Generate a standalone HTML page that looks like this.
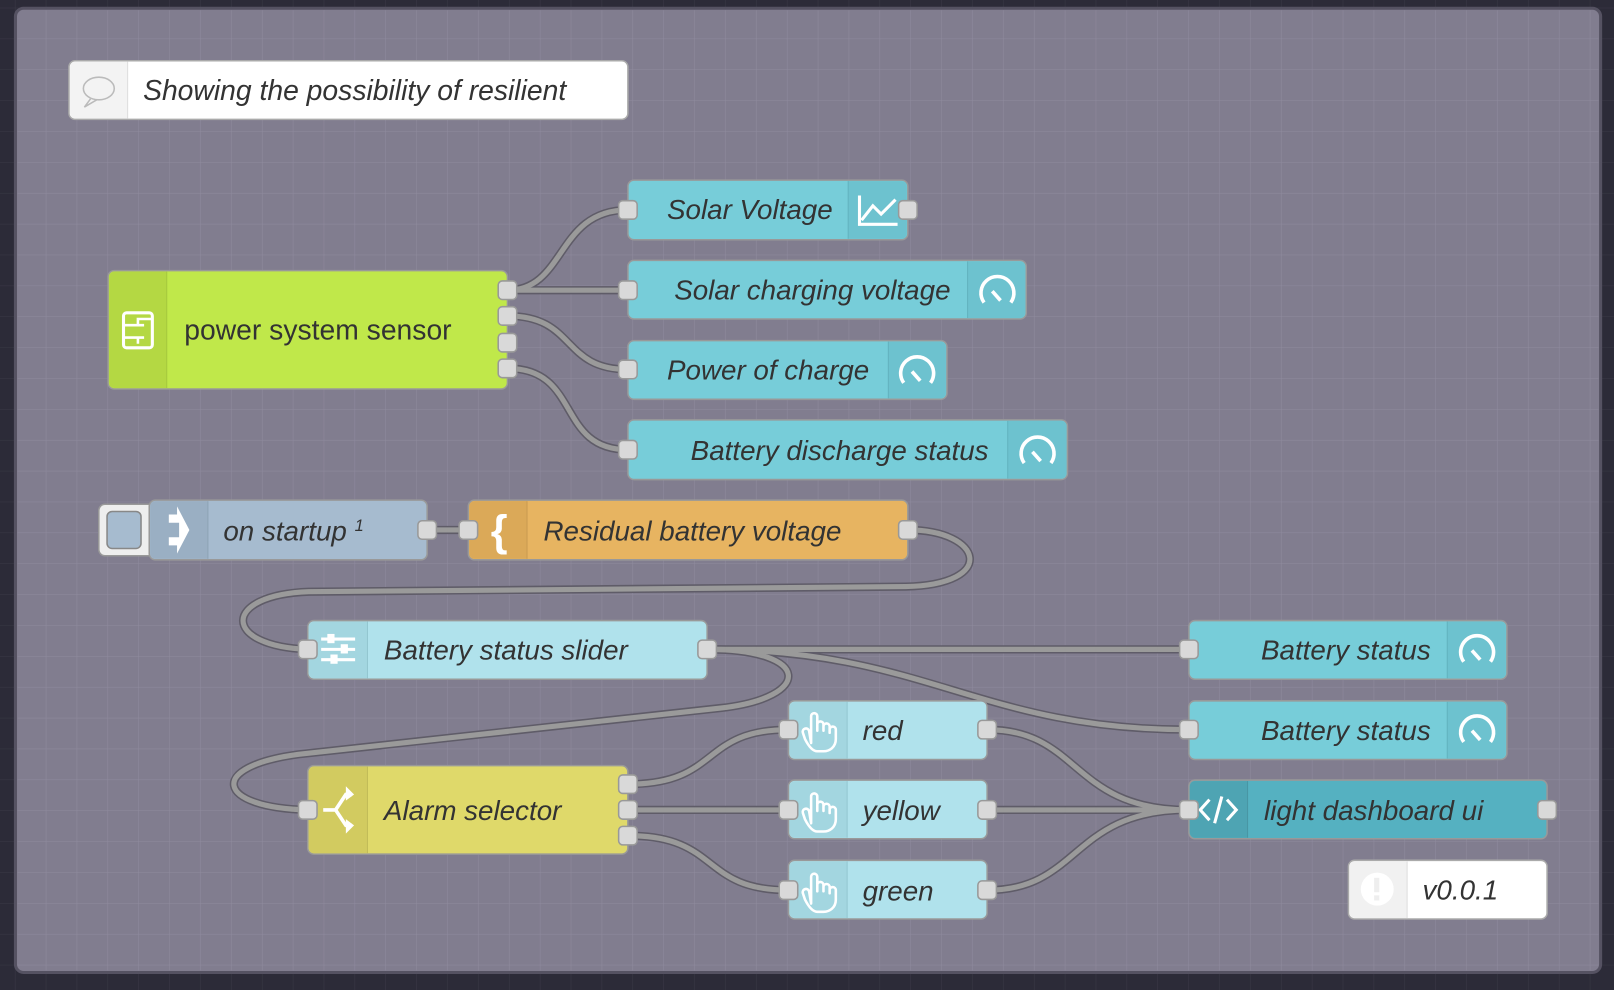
<!DOCTYPE html>
<html><head><meta charset="utf-8"><style>
html,body{margin:0;padding:0;background:#2c2b38;}
svg{display:block;}
text{font-family:"Liberation Sans",sans-serif;fill:#333;}
</style></head><body>
<svg width="1614" height="990" viewBox="0 0 1568 962" preserveAspectRatio="none" xmlns="http://www.w3.org/2000/svg">
<defs>
<pattern id="g" width="30" height="30" patternUnits="userSpaceOnUse" x="15" y="8">
<path d="M30 0V30M0 30H30" stroke="#8f8b9e" stroke-width="1" fill="none"/>
</pattern>
<pattern id="g2" width="30" height="30" patternUnits="userSpaceOnUse" x="15" y="8">
<path d="M30 0V30M0 30H30" stroke="#3a3946" stroke-width="1" fill="none"/>
</pattern>
</defs>
<rect width="1568" height="962" fill="#2c2b38"/>
<rect width="1568" height="962" fill="url(#g2)"/>
<rect x="15" y="8" width="1540" height="937" rx="8" fill="#817d8f" stroke="#555262" stroke-width="3"/>
<rect x="17" y="10" width="1536" height="933" fill="url(#g)"/>

<!-- wires -->
<g fill="none" stroke-linecap="round">
<g stroke="#5f5c68" stroke-width="8">
<path d="M493 282 C550 282 540 204 610 204"/>
<path d="M493 282 L610 282"/>
<path d="M493 307 C560 307 545 359 610 359"/>
<path d="M493 358 C565 358 540 437 610 437"/>
<path d="M415 515 L455 515"/>
<path d="M882 515 C955 515 970 568 880 570 L300 575 C215 578 215 628 299 631"/>
<path d="M687 631 L1155 631"/>
<path d="M687 631 C900 631 950 709 1155 709"/>
<path d="M687 631 C790 631 790 678 700 688 L290 733 C200 745 210 785 299 787"/>
<path d="M610 762 C700 762 680 709 766 709"/>
<path d="M610 787 L766 787"/>
<path d="M610 812 C700 812 680 865 766 865"/>
<path d="M959 709 C1050 709 1040 787 1155 787"/>
<path d="M959 787 L1155 787"/>
<path d="M959 865 C1050 865 1040 787 1155 787"/>
</g>
<g stroke="#9a9a9a" stroke-width="5">
<path d="M493 282 C550 282 540 204 610 204"/>
<path d="M493 282 L610 282"/>
<path d="M493 307 C560 307 545 359 610 359"/>
<path d="M493 358 C565 358 540 437 610 437"/>
<path d="M415 515 L455 515"/>
<path d="M882 515 C955 515 970 568 880 570 L300 575 C215 578 215 628 299 631"/>
<path d="M687 631 L1155 631"/>
<path d="M687 631 C900 631 950 709 1155 709"/>
<path d="M687 631 C790 631 790 678 700 688 L290 733 C200 745 210 785 299 787"/>
<path d="M610 762 C700 762 680 709 766 709"/>
<path d="M610 787 L766 787"/>
<path d="M610 812 C700 812 680 865 766 865"/>
<path d="M959 709 C1050 709 1040 787 1155 787"/>
<path d="M959 787 L1155 787"/>
<path d="M959 865 C1050 865 1040 787 1155 787"/>
</g>
</g>

<!-- comment -->
<rect x="67" y="59" width="543" height="57" rx="6" fill="#fff" stroke="#aaa" stroke-width="1.5"/>
<path d="M73 60 H124 V115 H73 a5 5 0 0 1 -5 -5 V65 a5 5 0 0 1 5 -5z" fill="#f3f3f3"/>
<line x1="124" y1="60" x2="124" y2="115" stroke="#ddd"/>
<ellipse cx="96" cy="86" rx="15" ry="11" fill="none" stroke="#bbb" stroke-width="1.5"/>
<path d="M88 96 L82 104 L94 97" fill="none" stroke="#bbb" stroke-width="1.5"/>
<text x="139" y="97" font-size="27.5" font-style="italic">Showing the possibility of resilient</text>

<!-- power system sensor -->
<rect x="105" y="263" width="388" height="115" rx="6" fill="#c0e84a" stroke="#999" stroke-width="1.5"/>
<path d="M111 264 H162 V377 H111 a5 5 0 0 1 -5 -5 V269 a5 5 0 0 1 5 -5z" fill="#b4d843"/>
<line x1="162" y1="264" x2="162" y2="377" stroke="#a5c93c"/>
<rect x="120" y="304" width="28" height="34" rx="3" fill="none" stroke="#fff" stroke-width="3"/>
<path d="M120 316 H140 M120 328 H140 M134 316 v-6 h14 M134 328 v6" fill="none" stroke="#fff" stroke-width="2.5"/>
<text x="179" y="330" font-size="27.5">power system sensor</text>

<!-- dashboard cyan nodes -->
<g>
<rect x="610" y="175" width="272" height="58" rx="6" fill="#77cdd9" stroke="#999" stroke-width="1.5"/>
<path d="M824 176 H876 a5 5 0 0 1 5 5 V227 a5 5 0 0 1 -5 5 H824z" fill="#6dc2cf"/>
<line x1="824" y1="176" x2="824" y2="232" stroke="#62b2be"/>
<path d="M835 190 V218 H872 M837 214 L848 200 L856 208 L870 194" fill="none" stroke="#fff" stroke-width="3"/>
<text x="648" y="213" font-size="27" font-style="italic">Solar Voltage</text>

<rect x="610" y="253" width="387" height="57" rx="6" fill="#77cdd9" stroke="#999" stroke-width="1.5"/>
<path d="M940 254 H991 a5 5 0 0 1 5 5 V304 a5 5 0 0 1 -5 5 H940z" fill="#6dc2cf"/>
<line x1="940" y1="254" x2="940" y2="309" stroke="#62b2be"/>
<text x="655" y="291" font-size="27" font-style="italic">Solar charging voltage</text>

<rect x="610" y="331" width="310" height="57" rx="6" fill="#77cdd9" stroke="#999" stroke-width="1.5"/>
<path d="M863 332 H914 a5 5 0 0 1 5 5 V382 a5 5 0 0 1 -5 5 H863z" fill="#6dc2cf"/>
<line x1="863" y1="332" x2="863" y2="387" stroke="#62b2be"/>
<text x="648" y="369" font-size="27" font-style="italic">Power of charge</text>

<rect x="610" y="408" width="427" height="58" rx="6" fill="#77cdd9" stroke="#999" stroke-width="1.5"/>
<path d="M979 409 H1031 a5 5 0 0 1 5 5 V460 a5 5 0 0 1 -5 5 H979z" fill="#6dc2cf"/>
<line x1="979" y1="409" x2="979" y2="465" stroke="#62b2be"/>
<text x="671" y="447" font-size="27" font-style="italic">Battery discharge status</text>

<rect x="1155" y="603" width="309" height="57" rx="6" fill="#77cdd9" stroke="#999" stroke-width="1.5"/>
<path d="M1406 604 H1458 a5 5 0 0 1 5 5 V654 a5 5 0 0 1 -5 5 H1406z" fill="#6dc2cf"/>
<line x1="1406" y1="604" x2="1406" y2="659" stroke="#62b2be"/>
<text x="1390" y="641" font-size="27" font-style="italic" text-anchor="end">Battery status</text>

<rect x="1155" y="681" width="309" height="57" rx="6" fill="#77cdd9" stroke="#999" stroke-width="1.5"/>
<path d="M1406 682 H1458 a5 5 0 0 1 5 5 V732 a5 5 0 0 1 -5 5 H1406z" fill="#6dc2cf"/>
<line x1="1406" y1="682" x2="1406" y2="737" stroke="#62b2be"/>
<text x="1390" y="719" font-size="27" font-style="italic" text-anchor="end">Battery status</text>
</g>

<!-- gauges -->
<g fill="none" stroke="#fff" stroke-width="3.5">
<path d="M956 294 A16 16 0 1 1 982 294"/><path d="M964 283 L972 292" stroke-width="3.5"/>
<path d="M878 372 A16 16 0 1 1 904 372"/><path d="M886 361 L894 370" stroke-width="3.5"/>
<path d="M995 450 A16 16 0 1 1 1021 450"/><path d="M1003 439 L1011 448" stroke-width="3.5"/>
<path d="M1422 643 A16 16 0 1 1 1448 643"/><path d="M1430 632 L1438 641" stroke-width="3.5"/>
<path d="M1422 721 A16 16 0 1 1 1448 721"/><path d="M1430 710 L1438 719" stroke-width="3.5"/>
</g>

<!-- on startup -->
<rect x="96" y="490" width="60" height="50" rx="6" fill="#eee" stroke="#999" stroke-width="1.5"/>
<rect x="104" y="497" width="33" height="36" rx="5" fill="#a6bbcf" stroke="#888" stroke-width="1.5"/>
<rect x="145" y="486" width="270" height="58" rx="6" fill="#a6bbcf" stroke="#999" stroke-width="1.5"/>
<path d="M151 487 H202 V543 H151 a5 5 0 0 1 -5 -5 V492 a5 5 0 0 1 5 -5z" fill="#9aafc3"/>
<line x1="202" y1="487" x2="202" y2="543" stroke="#8ea2b5"/>
<path d="M164 500 H172 V492 L184 515 L172 538 V530 H164 V522 H174 V508 H164z" fill="#fff"/>
<text x="217" y="525" font-size="27" font-style="italic">on startup <tspan font-size="16" dy="-9">1</tspan></text>

<!-- residual -->
<rect x="455" y="486" width="427" height="58" rx="6" fill="#e7b461" stroke="#999" stroke-width="1.5"/>
<path d="M461 487 H512 V543 H461 a5 5 0 0 1 -5 -5 V492 a5 5 0 0 1 5 -5z" fill="#dba958"/>
<line x1="512" y1="487" x2="512" y2="543" stroke="#c99b50"/>
<text x="485" y="530" font-size="42" font-weight="bold" style="fill:#fff" text-anchor="middle">{</text>
<text x="528" y="525" font-size="27" font-style="italic">Residual battery voltage</text>

<!-- slider -->
<rect x="299" y="603" width="388" height="57" rx="6" fill="#b0e2ec" stroke="#999" stroke-width="1.5"/>
<path d="M305 604 H357 V659 H305 a5 5 0 0 1 -5 -5 V609 a5 5 0 0 1 5 -5z" fill="#a3d6e0"/>
<line x1="357" y1="604" x2="357" y2="659" stroke="#93c6d0"/>
<g stroke="#fff" stroke-width="3"><line x1="312" y1="621" x2="345" y2="621"/><line x1="312" y1="631" x2="345" y2="631"/><line x1="312" y1="641" x2="345" y2="641"/></g>
<g fill="#fff"><rect x="318" y="616" width="7" height="9"/><rect x="331" y="626" width="7" height="9"/><rect x="321" y="636" width="7" height="9"/></g>
<text x="373" y="641" font-size="27" font-style="italic">Battery status slider</text>

<!-- alarm selector -->
<rect x="299" y="744" width="311" height="86" rx="6" fill="#dfd96a" stroke="#999" stroke-width="1.5"/>
<path d="M305 745 H357 V829 H305 a5 5 0 0 1 -5 -5 V750 a5 5 0 0 1 5 -5z" fill="#d2cb60"/>
<line x1="357" y1="745" x2="357" y2="829" stroke="#c2bc58"/>
<path d="M314 787 H326 L336 772 H342 M326 787 L336 802 H342" fill="none" stroke="#fff" stroke-width="3.5"/>
<path d="M336 764 L344 772 L336 778z M336 796 L344 802 L336 810z" fill="#fff"/>
<text x="373" y="797" font-size="27" font-style="italic">Alarm selector</text>

<!-- buttons -->
<g>
<rect x="766" y="681" width="193" height="57" rx="6" fill="#b0e2ec" stroke="#999" stroke-width="1.5"/>
<path d="M772 682 H823 V737 H772 a5 5 0 0 1 -5 -5 V687 a5 5 0 0 1 5 -5z" fill="#a3d6e0"/>
<line x1="823" y1="682" x2="823" y2="737" stroke="#93c6d0"/>
<text x="838" y="719" font-size="27" font-style="italic">red</text>
<rect x="766" y="758" width="193" height="57" rx="6" fill="#b0e2ec" stroke="#999" stroke-width="1.5"/>
<path d="M772 759 H823 V814 H772 a5 5 0 0 1 -5 -5 V764 a5 5 0 0 1 5 -5z" fill="#a3d6e0"/>
<line x1="823" y1="759" x2="823" y2="814" stroke="#93c6d0"/>
<text x="838" y="797" font-size="27" font-style="italic">yellow</text>
<rect x="766" y="836" width="193" height="57" rx="6" fill="#b0e2ec" stroke="#999" stroke-width="1.5"/>
<path d="M772 837 H823 V892 H772 a5 5 0 0 1 -5 -5 V842 a5 5 0 0 1 5 -5z" fill="#a3d6e0"/>
<line x1="823" y1="837" x2="823" y2="892" stroke="#93c6d0"/>
<text x="838" y="875" font-size="27" font-style="italic">green</text>
</g>
<g fill="none" stroke="#fff" stroke-width="2.5" stroke-linejoin="round">
<path d="M788 722 V696 a3 3 0 0 1 6 0 V710 V704 a3 3 0 0 1 6 0 V710 V706 a3 3 0 0 1 6 0 V712 V709 a3 3 0 0 1 6 0 V718 C812 726 806 730 800 730 H794 C790 730 786 726 782 718 L780 712 a3 3 0 0 1 6 -2z"/>
<path d="M788 800 V774 a3 3 0 0 1 6 0 V788 V782 a3 3 0 0 1 6 0 V788 V784 a3 3 0 0 1 6 0 V790 V787 a3 3 0 0 1 6 0 V796 C812 804 806 808 800 808 H794 C790 808 786 804 782 796 L780 790 a3 3 0 0 1 6 -2z"/>
<path d="M788 878 V852 a3 3 0 0 1 6 0 V866 V860 a3 3 0 0 1 6 0 V866 V862 a3 3 0 0 1 6 0 V868 V865 a3 3 0 0 1 6 0 V874 C812 882 806 886 800 886 H794 C790 886 786 882 782 874 L780 868 a3 3 0 0 1 6 -2z"/>
</g>

<!-- light dashboard ui -->
<rect x="1155" y="758" width="348" height="57" rx="6" fill="#55b1c1" stroke="#999" stroke-width="1.5"/>
<path d="M1161 759 H1212 V814 H1161 a5 5 0 0 1 -5 -5 V764 a5 5 0 0 1 5 -5z" fill="#4ea4b3"/>
<line x1="1212" y1="759" x2="1212" y2="814" stroke="#4896a4"/>
<path d="M1175 777 L1166 787 L1175 797 M1192 777 L1201 787 L1192 797 M1187 774 L1180 800" fill="none" stroke="#fff" stroke-width="3"/>
<text x="1228" y="797" font-size="27" font-style="italic">light dashboard ui</text>

<!-- version -->
<rect x="1310" y="836" width="193" height="57" rx="6" fill="#fff" stroke="#aaa" stroke-width="1.5"/>
<path d="M1316 837 H1367 V892 H1316 a5 5 0 0 1 -5 -5 V842 a5 5 0 0 1 5 -5z" fill="#f1f1f1"/>
<line x1="1367" y1="837" x2="1367" y2="892" stroke="#ddd"/>
<circle cx="1338" cy="864" r="16" fill="#fff"/>
<rect x="1335" y="853" width="5" height="14" fill="#eee"/><rect x="1335" y="870" width="5" height="5" fill="#eee"/>
<text x="1382" y="874" font-size="27" font-style="italic">v0.0.1</text>

<!-- ports -->
<g fill="#d9d9d9" stroke="#999" stroke-width="1.5">
<rect x="484" y="273" width="18" height="18" rx="4"/>
<rect x="484" y="298" width="18" height="18" rx="4"/>
<rect x="484" y="324" width="18" height="18" rx="4"/>
<rect x="484" y="349" width="18" height="18" rx="4"/>
<rect x="601" y="195" width="18" height="18" rx="4"/>
<rect x="873" y="195" width="18" height="18" rx="4"/>
<rect x="601" y="273" width="18" height="18" rx="4"/>
<rect x="601" y="350" width="18" height="18" rx="4"/>
<rect x="601" y="428" width="18" height="18" rx="4"/>
<rect x="406" y="506" width="18" height="18" rx="4"/>
<rect x="446" y="506" width="18" height="18" rx="4"/>
<rect x="873" y="506" width="18" height="18" rx="4"/>
<rect x="290" y="622" width="18" height="18" rx="4"/>
<rect x="678" y="622" width="18" height="18" rx="4"/>
<rect x="1146" y="622" width="18" height="18" rx="4"/>
<rect x="1146" y="700" width="18" height="18" rx="4"/>
<rect x="290" y="778" width="18" height="18" rx="4"/>
<rect x="601" y="753" width="18" height="18" rx="4"/>
<rect x="601" y="778" width="18" height="18" rx="4"/>
<rect x="601" y="803" width="18" height="18" rx="4"/>
<rect x="757" y="700" width="18" height="18" rx="4"/>
<rect x="950" y="700" width="18" height="18" rx="4"/>
<rect x="757" y="778" width="18" height="18" rx="4"/>
<rect x="950" y="778" width="18" height="18" rx="4"/>
<rect x="757" y="856" width="18" height="18" rx="4"/>
<rect x="950" y="856" width="18" height="18" rx="4"/>
<rect x="1146" y="778" width="18" height="18" rx="4"/>
<rect x="1494" y="778" width="18" height="18" rx="4"/>
</g>
</svg>
</body></html>
